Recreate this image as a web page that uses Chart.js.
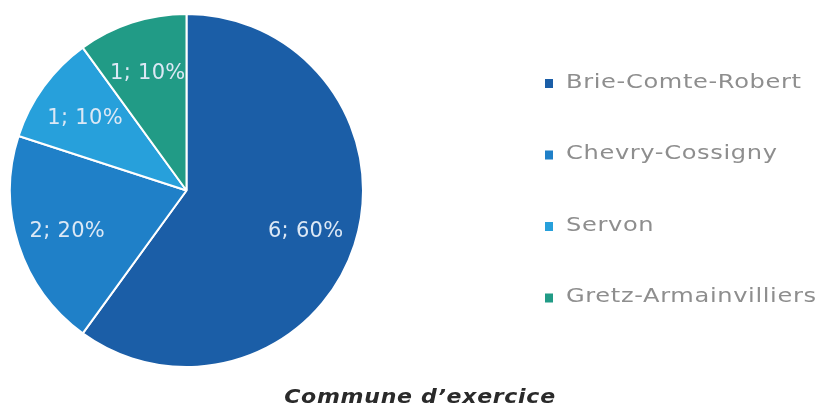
<!DOCTYPE html>
<html>
<head>
<meta charset="utf-8">
<script src="https://cdn.jsdelivr.net/npm/chart.js@4/dist/chart.umd.min.js"></script>
<style>
    html, body { margin: 0; padding: 0; background: #fff; }
    #wrap { width: 823px; height: 411px; }
</style>
</head>
<body>
<div id="wrap"><canvas id="myChart" width="823" height="411"></canvas></div>
<script>
// data
const communes = ['Brie-Comte-Robert', 'Chevry-Cossigny', 'Servon', 'Gretz-Armainvilliers'];
const effectifs = [6, 2, 1, 1];
const couleurs = ['#1b5ea7', '#1f80c8', '#27a0db', '#219b86'];
const titre = 'Commune d\u2019exercice';

// "6; 60%" labels inside each slice
const sliceLabels = {
    id: 'sliceLabels',
    afterDatasetsDraw(chart) {
        const { ctx } = chart;
        const total = effectifs.reduce((a, b) => a + b, 0);
        ctx.save();
        ctx.font = '21px "DejaVu Sans"';
        ctx.letterSpacing = '0.3px';
        ctx.fillStyle = '#dce8f5';
        ctx.textAlign = 'center';
        ctx.textBaseline = 'middle';
        chart.getDatasetMeta(0).data.forEach((arc, i) => {
            const { x, y, startAngle, endAngle, outerRadius } = arc.getProps(['x', 'y', 'startAngle', 'endAngle', 'outerRadius'], true);
            const mid = (startAngle + endAngle) / 2;
            const r = outerRadius * 0.71;
            const pct = Math.round(effectifs[i] / total * 100);
            ctx.fillText(effectifs[i] + '; ' + pct + '%', x + Math.cos(mid) * r, y + Math.sin(mid) * r + 2);
        });
        ctx.restore();
    }
};

// legend on the right + title under the chart (text stretched a bit, the original font is wide)
const legendeTitre = {
    id: 'legendeTitre',
    afterDraw(chart) {
        const { ctx } = chart;
        ctx.save();
        ctx.textBaseline = 'middle';
        communes.forEach((nom, i) => {
            const y = 83 + i * 71.5;
            ctx.fillStyle = couleurs[i];
            ctx.fillRect(545, y - 4, 8, 9);
            ctx.save();
            ctx.translate(566, y);
            ctx.scale(1.27, 1);
            ctx.font = '19px "DejaVu Sans"';
            ctx.letterSpacing = '0.5px';
            ctx.fillStyle = '#8e8e8e';
            ctx.textAlign = 'left';
            ctx.fillText(nom, 0, 0);
            ctx.restore();
        });
        ctx.translate(420, 398);
        ctx.scale(1.16, 1);
        ctx.font = 'italic bold 19px "DejaVu Sans"';
        ctx.letterSpacing = '0.6px';
        ctx.fillStyle = '#2a2a2a';
        ctx.textAlign = 'center';
        ctx.fillText(titre, 0, 0);
        ctx.restore();
    }
};

new Chart(document.getElementById('myChart'), {
    type: 'pie',
    data: {
        labels: communes,
        datasets: [{
            data: effectifs,
            backgroundColor: couleurs,
            borderColor: '#ffffff',
            borderWidth: 2
        }]
    },
    options: {
        responsive: false,
        animation: false,
        layout: { padding: { left: 9, top: 13, right: 459, bottom: 43 } },
        plugins: {
            legend: { display: false },
            tooltip: { enabled: false }
        }
    },
    plugins: [sliceLabels, legendeTitre]
});
</script>
</body>
</html>
